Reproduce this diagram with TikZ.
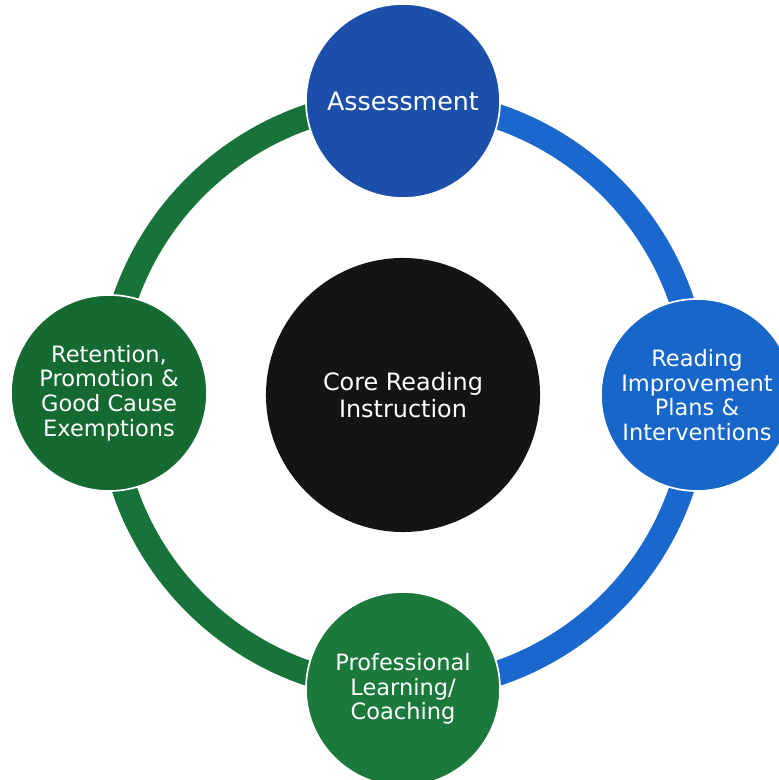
\documentclass[tikz,border=0pt]{standalone}
\usepackage{fontspec}
\setmainfont{DejaVu Sans}
\usetikzlibrary{backgrounds}

\definecolor{navyB}{HTML}{1C4FAA}
\definecolor{skyB}{HTML}{1766C9}
\definecolor{bandB}{HTML}{1A68CE}
\definecolor{darkG}{HTML}{146A30}
\definecolor{midG}{HTML}{1B793C}
\definecolor{bandG}{HTML}{18733B}
\definecolor{coreK}{HTML}{141416}

\begin{document}
\begin{tikzpicture}[x=0.025cm,y=0.025cm]

% ----------------------------
% Styles
% ----------------------------
\tikzset{
	core/.style={circle,fill=coreK,minimum size=6.85cm,inner sep=0pt,align=center,text=white,font=\fontsize{17}{19}\selectfont},
	stage/.style={circle,draw=white,line width=1.2pt,minimum size=4.85cm,inner sep=0pt,align=center,text=white,font=\fontsize{16}{17.5}\selectfont},
	ringB/.style={draw=bandB,line width=0.625cm},
	ringG/.style={draw=bandG,line width=0.625cm}
}

\useasboundingbox (0,0) rectangle (778,780);
\def\R{294}

% ============================================================
% Hub and the four stages on the ring
% ============================================================
\node[core] (hub) at (403,385) {Core Reading\\Instruction};

\node[stage,fill=navyB,font=\fontsize{18}{20}\selectfont] (assess) at (403,679) {Assessment};
\node[stage,fill=skyB,minimum size=4.8cm] (plans) at (697,385) {Reading\\Improvement\\Plans \&\\Interventions};
\node[stage,fill=midG] (coach) at (403,91) {Professional\\Learning/\\Coaching};
\node[stage,fill=darkG,minimum size=4.9cm] (retain) at (109,387) {Retention,\\Promotion \&\\Good Cause\\Exemptions};

% ============================================================
% Ring behind the circles
% ============================================================
\begin{scope}[on background layer]
	% right half: blue
	\draw[ringB] (assess.center) arc[start angle=90,end angle=-90,radius=\R];
	% left half: green
	\draw[ringG] (assess.center) arc[start angle=90,end angle=270,radius=\R];
\end{scope}
\end{tikzpicture}
\end{document}
